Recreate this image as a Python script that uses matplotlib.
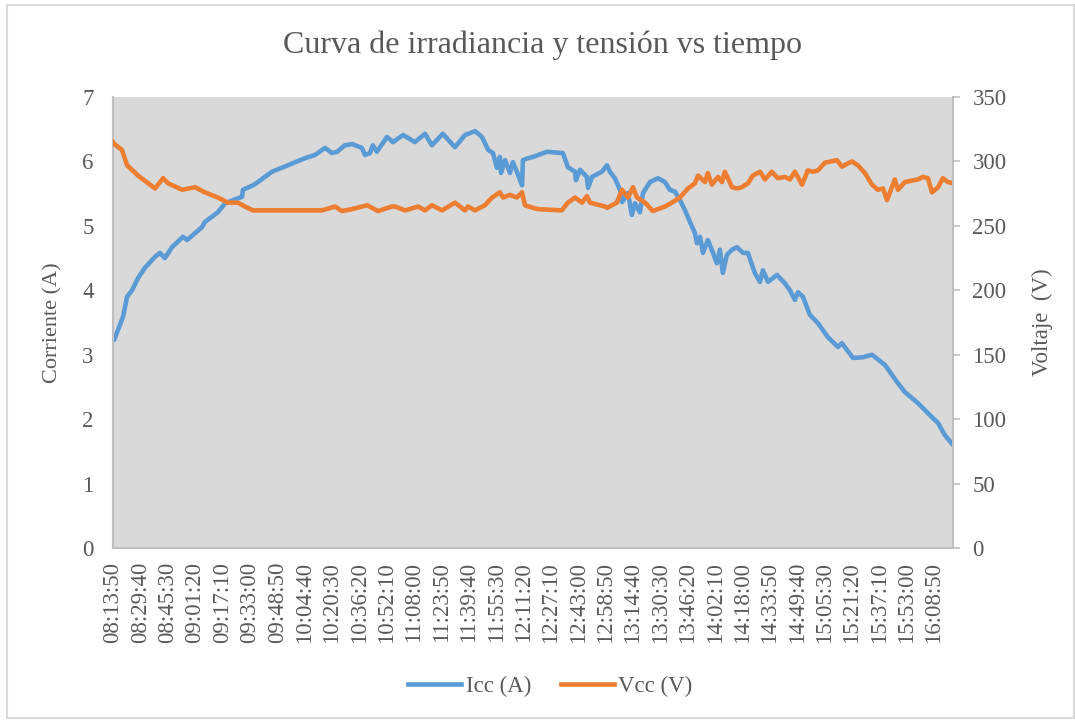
import matplotlib
matplotlib.use('Agg')
import matplotlib.pyplot as plt
from matplotlib.patches import Rectangle

# segundos desde las 08:13:50 (muestreo cada 10 s)
t_icc = [0, 40, 170, 350, 490, 660, 870, 1110, 1460, 1630, 1800, 2050, 2430, 2570,
         3090, 3190, 3640, 3890, 4340, 4480, 4510, 4860, 5030, 5520, 6070, 6660,
         7010, 7360, 7600, 7780, 8050, 8300, 8640, 8750, 8920, 9020, 9160, 9510,
         9720, 10070, 10480, 10830, 11070, 11450, 11870, 12220, 12570, 12810, 13020,
         13190, 13330, 13430, 13470, 13610, 13780, 13880, 14020, 14200, 14230, 14400,
         14580, 15060, 15620, 15790, 16040, 16070, 16210, 16450, 16490, 16630, 16970,
         17150, 17250, 17420, 17600, 17670, 17880, 18010, 18120, 18290, 18400, 18640,
         18920, 19160, 19330, 19510, 19680, 19850, 20030, 20200, 20270, 20380, 20480,
         20650, 20830, 20960, 21070, 21170, 21310, 21490, 21660, 21870, 22040, 22280,
         22460, 22560, 22740, 23050, 23320, 23500, 23670, 23780, 23950, 24190, 24470,
         24820, 25170, 25300, 25690, 26030, 26350, 26800, 27210, 27490, 27940, 28430,
         28640, 28880, 29160]
icc = [3.26, 3.23, 3.38, 3.59, 3.90, 4.00, 4.19, 4.35, 4.52, 4.58, 4.50, 4.67, 4.83, 4.78,
       4.98, 5.06, 5.21, 5.35, 5.43, 5.45, 5.56, 5.63, 5.68, 5.84, 5.94, 6.05,
       6.10, 6.21, 6.13, 6.15, 6.25, 6.27, 6.21, 6.10, 6.13, 6.25, 6.15, 6.38,
       6.30, 6.41, 6.30, 6.43, 6.25, 6.43, 6.22, 6.41, 6.47, 6.38, 6.18,
       6.13, 5.90, 6.07, 5.82, 6.02, 5.82, 5.99, 5.84, 5.63, 6.02, 6.05,
       6.07, 6.15, 6.13, 5.91, 5.84, 5.71, 5.87, 5.76, 5.59, 5.76, 5.84,
       5.94, 5.84, 5.74, 5.56, 5.37, 5.51, 5.17, 5.35, 5.21, 5.51, 5.68,
       5.74, 5.68, 5.56, 5.53, 5.40, 5.25, 5.06, 4.89, 4.73, 4.83, 4.58,
       4.78, 4.58, 4.42, 4.63, 4.27, 4.55, 4.63, 4.67, 4.58, 4.58, 4.27,
       4.13, 4.31, 4.13, 4.24, 4.11, 4.00, 3.85, 3.97, 3.90, 3.62, 3.49,
       3.27, 3.12, 3.18, 2.95, 2.96, 3.00, 2.84, 2.58, 2.42, 2.25, 2.03,
       1.94, 1.75, 1.60]

t_vcc = [0, 70, 310, 490, 870, 1460, 1740, 1910, 2400, 2850, 3190, 3640, 3990, 4340,
         4580, 4860, 5030, 6320, 7250, 7710, 7950, 8300, 8820, 9200, 9680, 9790,
         10140, 10590, 10830, 11070, 11420, 11870, 12220, 12320, 12570, 12910, 13160,
         13430, 13540, 13780, 14020, 14200, 14300, 14580, 14750, 15580, 15790, 16040,
         16280, 16450, 16560, 17080, 17150, 17490, 17670, 17880, 18050, 18190, 18470,
         18740, 19160, 19400, 19680, 19960, 20200, 20310, 20550, 20650, 20790, 21000,
         21140, 21240, 21490, 21660, 21830, 22040, 22210, 22460, 22630, 22870, 23080,
         23320, 23500, 23670, 23920, 24120, 24300, 24470, 24710, 25130, 25300, 25650,
         25860, 26100, 26350, 26550, 26730, 26870, 27040, 27140, 27250, 27490, 27940,
         28120, 28290, 28430, 28640, 28810, 28980, 29160]
vcc = [315, 313, 309, 297, 289, 279, 287, 283, 278, 280, 276, 272, 268, 268,
       265, 262, 262, 262, 262, 265, 261.5, 263, 266, 261.5, 265, 265,
       262, 265, 262, 266, 262, 268, 262, 265, 262, 266, 272,
       276, 272, 274, 272, 276, 266, 264, 263, 262, 268, 272,
       268, 273, 268, 265, 264, 268, 278, 272, 280, 272, 268,
       261.5, 265, 268, 272, 279, 283, 289, 284, 291, 282, 288,
       284, 292, 280, 279, 280, 283, 289, 292, 286, 292, 287,
       288, 286, 292, 282, 293, 292, 293, 299, 301, 296, 300,
       297, 291, 282, 278, 279, 270, 280, 286, 278, 284, 286,
       288, 287, 276, 280, 287, 284, 283]

etiquetas = ['08:13:50', '08:29:40', '08:45:30', '09:01:20', '09:17:10', '09:33:00',
             '09:48:50', '10:04:40', '10:20:30', '10:36:20', '10:52:10', '11:08:00',
             '11:23:50', '11:39:40', '11:55:30', '12:11:20', '12:27:10', '12:43:00',
             '12:58:50', '13:14:40', '13:30:30', '13:46:20', '14:02:10', '14:18:00',
             '14:33:50', '14:49:40', '15:05:30', '15:21:20', '15:37:10', '15:53:00',
             '16:08:50']
paso = 950  # segundos entre etiquetas

azul = '#5B9BD5'
naranja = '#ED7D31'
gris = '#595959'
eje = '#BFBFBF'

plt.rcParams['font.family'] = ['Liberation Serif', 'DejaVu Serif']

fig = plt.figure(figsize=(10.75, 7.2), dpi=100)
ax = fig.add_axes([113/1075, 1 - 548/720, 840/1075, 451/720])
ax2 = ax.twinx()

ax.set_facecolor('#D9D9D9')
l1, = ax.plot(t_icc, icc, color=azul, lw=3.3, solid_joinstyle='round')
l2, = ax2.plot(t_vcc, vcc, color=naranja, lw=3.3, solid_joinstyle='round')

ax.set_xlim(0, t_icc[-1])
ax.set_ylim(0, 7)
ax2.set_ylim(0, 350)
ax.set_yticks(range(0, 8))
ax2.set_yticks(range(0, 351, 50))
ax.set_xticks([i * paso for i in range(len(etiquetas))])
ax.set_xticklabels(etiquetas, rotation=90)

for s in ax.spines.values():
    s.set_visible(False)
for s in ax2.spines.values():
    s.set_visible(False)
ax.spines['left'].set_visible(True)
ax.spines['bottom'].set_visible(True)
ax2.spines['right'].set_visible(True)
for s in (ax.spines['left'], ax.spines['bottom'], ax2.spines['right']):
    s.set_color(eje)
    s.set_linewidth(1.5)

ax.tick_params(axis='y', length=0, pad=14, labelsize=16.5, labelcolor=gris)
ax.tick_params(axis='x', length=0, pad=10, labelsize=16.5, labelcolor=gris)
ax2.tick_params(axis='y', length=5, width=1.2, color=eje, pad=9, labelsize=16.5, labelcolor=gris)

ax.set_ylabel('Corriente (A)', fontsize=16, color=gris, labelpad=14)
ax2.set_ylabel('Voltaje  (V)', fontsize=16.5, color=gris, labelpad=18)

fig.text(0.505, 1 - 45/720, 'Curva de irradiancia y tensión vs tiempo',
         ha='center', va='center', fontsize=23, color=gris)

fig.legend([l1, l2], ['Icc (A)', 'Vcc (V)'], loc='center', bbox_to_anchor=(0.512, 1 - 686/720),
           ncol=2, frameon=False, fontsize=16.5, labelcolor=gris, handlelength=2.3,
           handletextpad=0.2, columnspacing=1.3)

fig.patches.append(Rectangle((7/1075, 2/720), 1067/1075, 713/720, transform=fig.transFigure,
                             fill=False, edgecolor='#D9D9D9', lw=1.5))

fig.savefig('out.png', dpi=100)
